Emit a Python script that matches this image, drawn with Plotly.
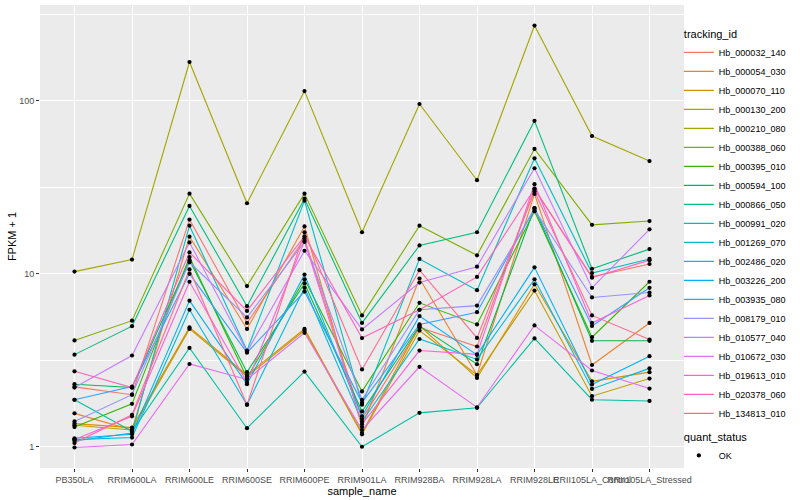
import plotly.graph_objects as go

samples = ["PB350LA", "RRIM600LA", "RRIM600LE", "RRIM600SE", "RRIM600PE", "RRIM901LA",
           "RRIM928BA", "RRIM928LA", "RRIM928LE", "RRII105LA_Control", "RRII105LA_Stressed"]

tracking_ids = ["Hb_000032_140", "Hb_000054_030", "Hb_000070_110", "Hb_000130_200",
                "Hb_000210_080", "Hb_000388_060", "Hb_000395_010", "Hb_000594_100",
                "Hb_000866_050", "Hb_000991_020", "Hb_001269_070", "Hb_002486_020",
                "Hb_003226_200", "Hb_003935_080", "Hb_008179_010", "Hb_010577_040",
                "Hb_010672_030", "Hb_019613_010", "Hb_020378_060", "Hb_134813_010"]

colors = ["#F8766D", "#EA8331", "#D89000", "#C09B00", "#A3A500", "#7CAE00", "#39B600",
          "#00BB4E", "#00BF7D", "#00C1A3", "#00BFC4", "#00BAE0", "#00B0F6", "#35A2FF",
          "#9590FF", "#C77CFF", "#E76BF3", "#FA62DB", "#FF62BC", "#FF6C91"]

# FPKM + 1 per sample (order of `samples`)
hb_000032_140 = [2.22, 2.00, 20.6, 5.2, 16.0, 1.45, 4.9, 3.8, 31.0, 9.6, 11.4]
hb_000054_030 = [1.56, 1.25, 16.4, 4.8, 18.8, 1.30, 9.4, 2.6, 29.0, 2.97, 5.2]
hb_000070_110 = [1.36, 1.29, 4.9, 2.6, 4.8, 1.20, 5.0, 2.5, 8.7, 2.39, 2.70]
hb_000130_200 = [1.33, 1.25, 4.8, 2.55, 4.7, 1.18, 4.7, 2.6, 8.0, 1.96, 2.48]
hb_000210_080 = [10.3, 12.1, 168.0, 25.6, 114.0, 17.4, 96.0, 34.8, 273.0, 62.7, 44.9]
hb_000388_060 = [4.12, 5.36, 29.1, 8.5, 29.1, 5.75, 19.0, 12.8, 52.8, 19.2, 20.2]
hb_000395_010 = [1.30, 1.77, 12.5, 2.5, 9.3, 2.09, 6.8, 5.1, 23.0, 4.3, 9.0]
hb_000594_100 = [2.30, 2.20, 12.0, 2.7, 8.8, 1.60, 5.0, 3.0, 24.0, 4.1, 4.1]
hb_000866_050 = [3.41, 4.98, 24.7, 6.5, 27.2, 5.2, 14.6, 17.4, 76.7, 10.7, 13.9]
hb_000991_020 = [1.87, 1.23, 3.73, 1.28, 2.72, 1.00, 1.57, 1.68, 4.23, 1.87, 1.84]
hb_001269_070 = [1.08, 1.20, 19.0, 3.6, 26.5, 1.75, 12.2, 8.05, 46.6, 10.1, 12.2]
hb_002486_020 = [1.10, 1.13, 6.2, 1.75, 8.3, 1.40, 4.2, 3.2, 9.3, 2.16, 2.84]
hb_003226_200 = [1.12, 1.18, 7.0, 2.3, 9.9, 1.50, 5.7, 3.4, 10.9, 2.29, 3.34]
hb_003935_080 = [1.87, 2.23, 10.0, 3.5, 7.9, 1.80, 5.1, 6.0, 24.0, 5.0, 8.3]
hb_008179_010 = [1.40, 2.00, 11.66, 5.6, 15.3, 1.87, 6.2, 6.55, 23.5, 7.3, 7.8]
hb_010577_040 = [2.20, 3.37, 15.2, 3.55, 13.6, 4.77, 8.9, 11.0, 40.8, 8.3, 18.1]
hb_010672_030 = [0.99, 1.03, 3.01, 2.45, 4.56, 1.25, 2.9, 1.69, 5.03, 2.76, 2.17]
hb_019613_010 = [1.10, 1.50, 9.0, 2.35, 15.5, 1.35, 3.6, 3.42, 33.0, 5.2, 7.5]
hb_020378_060 = [2.73, 2.20, 13.3, 6.1, 16.5, 4.25, 6.2, 9.6, 31.0, 9.5, 12.0]
hb_134813_010 = [1.05, 1.53, 10.6, 1.75, 17.4, 2.80, 10.5, 4.26, 30.0, 5.75, 4.17]

series_values = [hb_000032_140, hb_000054_030, hb_000070_110, hb_000130_200, hb_000210_080,
                 hb_000388_060, hb_000395_010, hb_000594_100, hb_000866_050, hb_000991_020,
                 hb_001269_070, hb_002486_020, hb_003226_200, hb_003935_080, hb_008179_010,
                 hb_010577_040, hb_010672_030, hb_019613_010, hb_020378_060, hb_134813_010]

y_ticks = [1, 10, 100]
y_tick_labels = ["1", "10", "100"]
y_minor = [10 ** 0.5, 10 ** 1.5, 10 ** 2.5]

FONT = "Liberation Sans, Arial, sans-serif"

fig = go.Figure()
for tid, col, vals in zip(tracking_ids, colors, series_values):
    fig.add_trace(go.Scatter(
        x=samples, y=vals, mode="lines", name=tid,
        line=dict(color=col, width=1.1),
        legendgroup="tracking_id",
        legendgrouptitle=dict(text="tracking_id", font=dict(size=11, color="black", family=FONT)),
    ))

all_x, all_y = [], []
for vals in series_values:
    all_x += samples
    all_y += vals
fig.add_trace(go.Scatter(
    x=all_x, y=all_y, mode="markers", name="OK",
    marker=dict(color="black", size=4.2),
    legendgroup="quant_status",
    legendgrouptitle=dict(text="quant_status", font=dict(size=11, color="black", family=FONT)),
))

fig.update_layout(
    width=800, height=500,
    margin=dict(l=40, r=116, t=5, b=32, autoexpand=False),
    paper_bgcolor="white", plot_bgcolor="#EBEBEB",
    font=dict(family=FONT, color="black"),
    showlegend=True,
    legend=dict(x=0.992, xanchor="left", y=0.97, yanchor="top",
                font=dict(size=9, color="black", family=FONT),
                itemwidth=30, tracegroupgap=4, bgcolor="rgba(0,0,0,0)"),
)
fig.update_xaxes(
    type="category", categoryorder="array", categoryarray=samples,
    range=[-0.6, 10.6], showgrid=True, gridcolor="white", gridwidth=1.1,
    ticks="outside", ticklen=3, tickcolor="#333333", tickangle=0,
    tickfont=dict(size=9, color="#4D4D4D"),
    title=dict(text="sample_name", font=dict(size=11, color="black"), standoff=0),
    zeroline=False, showline=False, automargin=False,
)
fig.update_yaxes(
    type="log", range=[-0.123, 2.555],
    tickmode="array", tickvals=y_ticks, ticktext=y_tick_labels,
    showgrid=True, gridcolor="white", gridwidth=1.1,
    minor=dict(tickmode="array", tickvals=y_minor, showgrid=True, gridcolor="white", gridwidth=0.5),
    ticks="outside", ticklen=3, tickcolor="#333333",
    tickfont=dict(size=9, color="#4D4D4D"),
    title=dict(text="FPKM + 1", font=dict(size=11, color="black"), standoff=0),
    zeroline=False, showline=False, automargin=False,
)

fig.write_html("out.html", post_script="document.body.style.margin='0';",
               config={"displayModeBar": False})
